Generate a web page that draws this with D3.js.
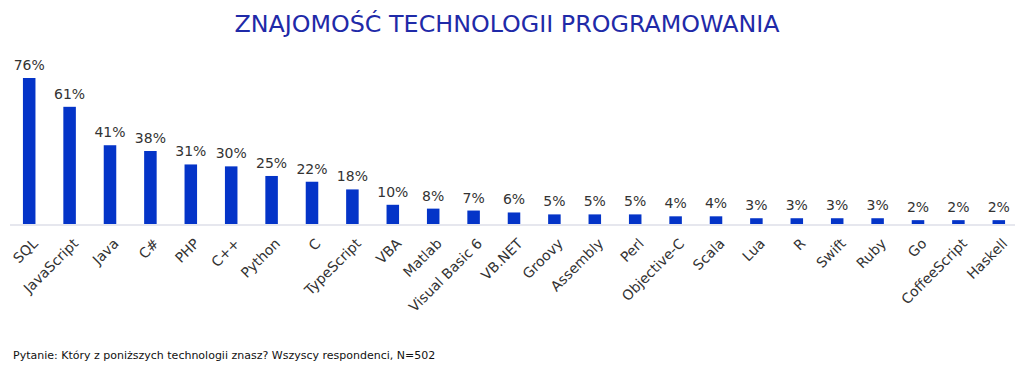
<!DOCTYPE html>
<html>
<head>
<meta charset="utf-8">
<script src="https://cdn.jsdelivr.net/npm/d3@7"></script>
<style>
  body { margin: 0; background: #fff; }
  text { font-family: "DejaVu Sans", Verdana, sans-serif; }
</style>
</head>
<body>
<div id="chart-area"></div>
<script>

var technologies = ["SQL", "JavaScript", "Java", "C#", "PHP", "C++", "Python", "C", "TypeScript",
    "VBA", "Matlab", "Visual Basic 6", "VB.NET", "Groovy", "Assembly", "Perl", "Objective-C",
    "Scala", "Lua", "R", "Swift", "Ruby", "Go", "CoffeeScript", "Haskell"];
var shares = [76, 61, 41, 38, 31, 30, 25, 22, 18, 10, 8, 7, 6, 5, 5, 5, 4, 4, 3, 3, 3, 3, 2, 2, 2];

var chartTitle = "ZNAJOMOŚĆ TECHNOLOGII PROGRAMOWANIA";
var footnote = "Pytanie: Który z poniższych technologii znasz? Wszyscy respondenci, N=502";

var width = 1021, height = 373;

var svg = d3.select("#chart-area")
  .append("svg")
    .attr("width", width)
    .attr("height", height);

var x = d3.scaleBand()
    .domain(technologies)
    .range([9, 1019])
    .paddingInner(0.69)
    .paddingOuter(0.345);

var y = d3.scaleLinear()
    .domain([0, 76])
    .range([224, 78]);

// title
svg.append("text")
    .attr("x", 507)
    .attr("y", 32)
    .attr("text-anchor", "middle")
    .attr("fill", "#1f2aa8")
    .attr("font-size", 23.8)
    .text(chartTitle);

// baseline
svg.append("line")
    .attr("x1", 10)
    .attr("x2", 1015)
    .attr("y1", y(0) + 1)
    .attr("y2", y(0) + 1)
    .attr("stroke", "#e6e7ee")
    .attr("stroke-width", 2);

var bars = svg.selectAll("rect.bar")
    .data(shares);

bars.enter()
  .append("rect")
    .attr("class", "bar")
    .attr("x", function(d, i) { return x(technologies[i]); })
    .attr("y", function(d) { return y(d); })
    .attr("width", x.bandwidth())
    .attr("height", function(d) { return y(0) - y(d); })
    .attr("fill", "#0434c8");

svg.selectAll("text.value")
    .data(shares)
  .enter()
  .append("text")
    .attr("class", "value")
    .attr("x", function(d, i) { return x(technologies[i]) + x.bandwidth() / 2; })
    .attr("y", function(d) { return y(d) - 8; })
    .attr("text-anchor", "middle")
    .attr("font-size", 14)
    .attr("fill", "#333")
    .text(function(d) { return d + "%"; });

// x axis labels, rotated
var xAxis = d3.axisBottom(x).tickSize(0).tickPadding(0);

var gx = svg.append("g")
    .attr("transform", "translate(0," + (y(0) + 17) + ")")
    .call(xAxis);

gx.select(".domain").remove();

gx.selectAll("text")
    .attr("font-family", "DejaVu Sans")
    .attr("font-size", 14)
    .attr("fill", "#333")
    .attr("text-anchor", "end")
    .attr("dy", "0.35em")
    .attr("transform", "translate(6,0) rotate(-45)");

// footnote
svg.append("text")
    .attr("x", 13)
    .attr("y", 359)
    .attr("font-size", 11)
    .attr("fill", "#111")
    .text(footnote);

</script>
</body>
</html>
